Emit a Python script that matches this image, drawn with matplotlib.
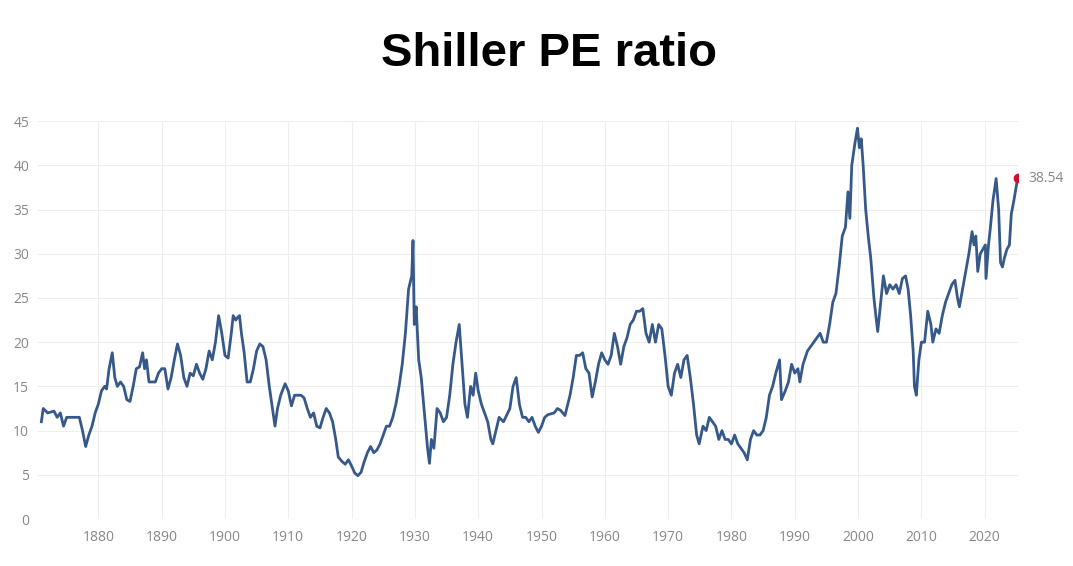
import matplotlib
matplotlib.use("Agg")
import matplotlib.pyplot as plt

years = [1871,1871.3,1872,1873,1873.5,1874,1874.5,1875,1876,1877,1877.5,1878,1878.5,1879,1879.5,1880,1880.5,1881,1881.3,1881.7,1882.2,1882.6,1883,1883.5,1884,1884.5,1885,1885.5,1886,1886.5,1887,1887.3,1887.6,1888,1889,1889.5,1890,1890.5,1891,1891.5,1892,1892.5,1893,1893.5,1894,1894.5,1895,1895.5,1896,1896.5,1897,1897.5,1898,1898.5,1899,1899.5,1900,1900.5,1901,1901.3,1901.7,1902,1902.3,1902.6,1903,1903.5,1904,1904.5,1905,1905.5,1906,1906.5,1907,1907.5,1907.9,1908.3,1908.8,1909.5,1910,1910.5,1911,1911.5,1912,1912.5,1913,1913.5,1914,1914.5,1915,1915.5,1916,1916.5,1917,1917.5,1917.9,1918.5,1919,1919.5,1920,1920.5,1921,1921.5,1922,1922.5,1923,1923.5,1924,1924.5,1925,1925.5,1926,1926.5,1927,1927.5,1928,1928.5,1929,1929.5,1929.7,1929.9,1930.2,1930.6,1931,1931.5,1932,1932.3,1932.6,1933,1933.5,1934,1934.5,1935,1935.5,1936,1936.5,1937,1937.4,1937.9,1938.3,1938.8,1939.2,1939.6,1940,1940.5,1941,1941.5,1942,1942.3,1942.8,1943.3,1944,1945,1945.5,1946,1946.5,1947,1947.5,1948,1948.5,1949,1949.5,1950,1950.5,1951,1952,1952.5,1953,1953.7,1954.5,1955,1955.5,1956,1956.5,1957,1957.5,1958,1958.5,1959,1959.5,1960,1960.5,1961,1961.5,1962,1962.5,1963,1963.5,1964,1964.5,1965,1965.5,1966,1966.5,1967,1967.5,1968,1968.5,1969,1969.5,1970,1970.5,1971,1971.5,1972,1972.5,1973,1973.5,1974,1974.5,1974.9,1975.5,1976,1976.5,1977,1977.5,1978,1978.5,1979,1979.5,1980,1980.5,1981,1981.5,1982,1982.5,1983,1983.5,1984,1984.5,1985,1985.5,1986,1986.5,1987,1987.6,1987.9,1988.5,1989,1989.5,1990,1990.5,1990.8,1991.3,1992,1992.5,1993,1994,1994.5,1995,1995.5,1996,1996.5,1997,1997.5,1998,1998.4,1998.7,1999,1999.5,1999.9,2000.2,2000.5,2000.8,2001.2,2001.6,2002,2002.5,2002.8,2003.1,2003.5,2004,2004.5,2005,2005.5,2006,2006.5,2007,2007.5,2007.9,2008.3,2008.7,2008.9,2009.2,2009.6,2010,2010.5,2011,2011.5,2011.8,2012.3,2012.8,2013.3,2013.8,2014.3,2014.8,2015.3,2015.7,2016,2016.5,2017,2017.5,2018,2018.3,2018.6,2018.9,2019.3,2019.7,2020.1,2020.2,2020.6,2020.9,2021.3,2021.8,2022.2,2022.5,2022.8,2023.1,2023.5,2023.9,2024.2,2024.6,2025.2]
cape = [11,12.5,12,12.2,11.5,12,10.5,11.5,11.5,11.5,10,8.2,9.5,10.5,12,13,14.5,15,14.7,17,18.8,16,15,15.5,15,13.5,13.3,15,17,17.2,18.8,17,18,15.5,15.5,16.5,17,17,14.7,16,18,19.8,18.5,16,15,16.5,16.2,17.5,16.5,15.8,17,19,18,20,23,21,18.5,18.2,21,23,22.5,22.8,23,21,19,15.5,15.5,17,19,19.8,19.5,18,15,12.5,10.5,12.5,14,15.3,14.5,12.8,14,14,14,13.7,12.5,11.5,12,10.5,10.3,11.5,12.5,12,11,9,7,6.5,6.2,6.7,6,5.2,4.9,5.3,6.5,7.5,8.2,7.5,7.8,8.5,9.5,10.5,10.5,11.5,13,15,17.5,21,26,27.5,31.5,22,24,18,16,12,8,6.3,9,8,12.5,12,11,11.5,14,17.5,20,22,18,13,11.5,15,14,16.5,14.5,13,12,11,9,8.5,10,11.5,11,12.5,15,16,13,11.5,11.5,11,11.5,10.5,9.8,10.5,11.5,11.8,12,12.5,12.3,11.7,14,16,18.5,18.5,18.8,17,16.5,13.8,15.5,17.5,18.8,18,17.5,18.5,21,19.5,17.5,19.5,20.5,22,22.5,23.5,23.5,23.8,21,20,22,20,22,21.5,18.5,15,14,16.5,17.5,16,18,18.5,16,13,9.5,8.5,10.5,10,11.5,11,10.5,9,10,9,9,8.5,9.5,8.5,8,7.5,6.7,9,10,9.5,9.5,10,11.5,14,15,16.5,18,13.5,14.5,15.5,17.5,16.5,17,15.5,17.5,19,19.5,20,21,20,20,22,24.5,25.5,28.5,32,33,37,34,40,42.5,44.2,42,43,40,35,32,29.5,25,23,21.2,24,27.5,25.5,26.5,26,26.5,25.5,27.2,27.5,26,23,19,15,14,18,20,20,23.5,22,20,21.5,21,23,24.5,25.5,26.5,27,25,24,26,28,30,32.5,31,32,28,30,30.5,31,27.2,31,33,36,38.5,35,29,28.5,29.5,30.5,31,34.5,36,38.54]
y_ticks = list(range(0, 50, 5))
x_ticks = list(range(1880, 2030, 10))

plt.rcParams['font.family'] = ['Open Sans', 'DejaVu Sans']
fig = plt.figure(figsize=(10.73, 5.66), dpi=100)
ax = fig.add_axes([0.035, 0.083, 0.914, 0.703])
ax.plot(years, cape, color='#36598a', lw=2.0, solid_joinstyle='round')
ax.plot(years[-1], cape[-1], 'o', color='#d0102a', ms=6, zorder=5)
ax.annotate(f"{cape[-1]:.2f}", (years[-1], cape[-1]), xytext=(8, 0),
            textcoords='offset points', va='center', fontsize=10, color='#888888')
ax.set_xlim(1870.4, 2025.3)
ax.set_ylim(0, 45)
ax.set_yticks(y_ticks)
ax.set_xticks(x_ticks)
ax.grid(True, color='#eeeeee', lw=0.8)
ax.set_axisbelow(True)
for s in ax.spines.values():
    s.set_visible(False)
ax.tick_params(length=0, labelsize=10, colors='#888888', pad=8)
ax.tick_params(axis='y', pad=6)
for lab in ax.get_yticklabels():
    lab.set_horizontalalignment('right')
fig.text(0.512, 0.905, "Shiller PE ratio", ha='center', va='center', fontsize=34,
         fontweight='bold', family=['Liberation Sans', 'DejaVu Sans'])
fig.savefig("out.png", dpi=100)
